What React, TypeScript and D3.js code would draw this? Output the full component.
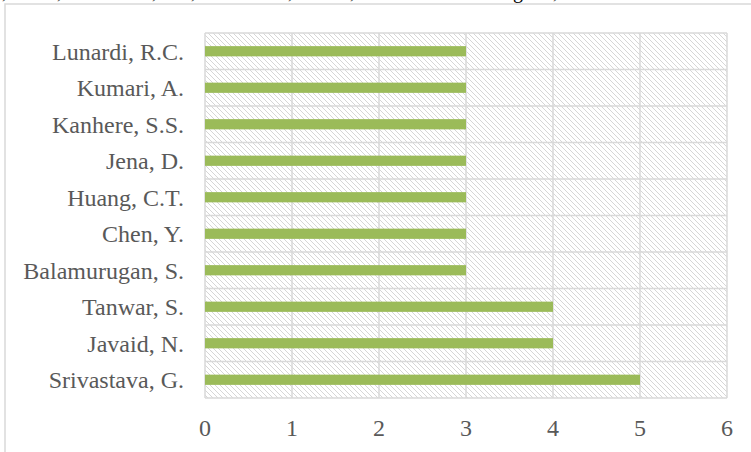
import * as d3 from 'd3';
import React from 'react';

// authors, top to bottom as drawn
const authors = [
  'Lunardi, R.C.',
  'Kumari, A.',
  'Kanhere, S.S.',
  'Jena, D.',
  'Huang, C.T.',
  'Chen, Y.',
  'Balamurugan, S.',
  'Tanwar, S.',
  'Javaid, N.',
  'Srivastava, G.',
];
const docCounts = [3, 3, 3, 3, 3, 3, 3, 4, 4, 5];
const xTicks = [0, 1, 2, 3, 4, 5, 6];

// bits of the caption line above that got cut off
const cutMarks = [
  { ch: ',', x: 2 }, { ch: ',', x: 57 }, { ch: ',', x: 152 }, { ch: ',', x: 191 },
  { ch: ',', x: 288 }, { ch: ',', x: 350 }, { ch: 'g', x: 513 }, { ch: ',', x: 553 },
];

export default function App() {
  const width = 751, height = 452;
  const margin = { top: 33, right: 24, bottom: 54, left: 205 };

  const x = d3.scaleLinear()
    .domain([0, 6])
    .range([margin.left, width - margin.right]);

  const y = d3.scaleBand()
    .domain(authors)
    .range([margin.top, height - margin.bottom])
    .paddingInner(0.72)
    .paddingOuter(0.36);

  const band = (height - margin.top - margin.bottom) / authors.length;
  const font = '"Liberation Serif", "Times New Roman", serif';
  const grid = '#d9d9d9';
  const txt = '#595959';

  return (
    <svg width={width} height={height} style={{ position: 'absolute', left: 0, top: 0 }}>
      <defs>
        <pattern id="hatch" width="5" height="5" patternUnits="userSpaceOnUse">
          <rect width="5" height="5" fill="#fff" />
          <path d="M-1,-1 L6,6 M-1,4 L1,6 M4,-1 L6,1" stroke="#d6d6d6" strokeWidth="1" />
        </pattern>
      </defs>
      <rect width={width} height={height} fill="#fff" />

      {cutMarks.map((m, i) => (
        <text key={i} x={m.x} y={-2} fontFamily={font} fontSize={20} fill="#000">{m.ch}</text>
      ))}

      {/* chart border */}
      <path d={`M5,${height} L5,4 L${width},4`} fill="none" stroke={grid} strokeWidth={1.5} />

      {/* plot area */}
      <rect x={margin.left} y={margin.top}
        width={width - margin.left - margin.right}
        height={height - margin.top - margin.bottom}
        fill="url(#hatch)" />

      {/* vertical gridlines */}
      {xTicks.map(t => (
        <line key={'v' + t} x1={x(t)} x2={x(t)} y1={margin.top} y2={height - margin.bottom}
          stroke={grid} strokeWidth={1.5} />
      ))}
      {/* horizontal category gridlines */}
      {d3.range(authors.length + 1).map(i => (
        <line key={'h' + i} x1={margin.left} x2={width - margin.right}
          y1={margin.top + i * band} y2={margin.top + i * band}
          stroke={grid} strokeWidth={1.5} />
      ))}

      {authors.map((a, i) => (
        <rect key={a} x={x(0)} y={y(a)} width={x(docCounts[i]) - x(0)} height={y.bandwidth()}
          fill="#9bbb59" />
      ))}

      {authors.map(a => (
        <text key={'l' + a} x={margin.left - 21} y={(y(a) ?? 0) + y.bandwidth() / 2}
          dy="0.36em" textAnchor="end" fontFamily={font} fontSize={24} fill={txt}>{a}</text>
      ))}

      {xTicks.map(t => (
        <text key={'t' + t} x={x(t)} y={height - margin.bottom + 38} textAnchor="middle"
          fontFamily={font} fontSize={24} fill={txt}>{t}</text>
      ))}
    </svg>
  );
}
